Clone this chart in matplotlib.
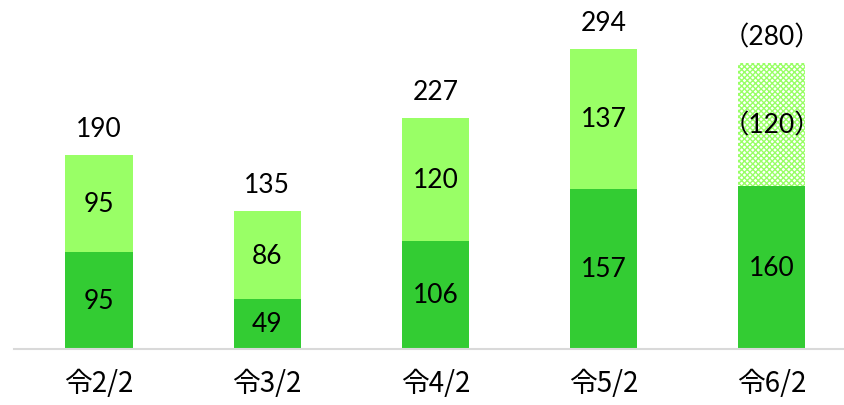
import matplotlib.pyplot as plt

plt.rcParams['font.family'] = ['Lato', 'Noto Sans CJK JP', 'DejaVu Sans']

categories = ["令2/2", "令3/2", "令4/2", "令5/2", "令6/2"]
lower = [95, 49, 106, 157, 160]
upper = [95, 86, 120, 137, 120]
lower_labels = ["95", "49", "106", "157", "160"]
upper_labels = ["95", "86", "120", "137", "（120）"]
total_labels = ["190", "135", "227", "294", "（280）"]
estimated = [False, False, False, False, True]

dark = '#33CC33'
light = '#99FF66'

fig = plt.figure(figsize=(8.44, 4.06), dpi=100)
ax = fig.add_axes([14 / 844, 56 / 406, 830 / 844, 350 / 406])

x = list(range(len(categories)))
w = 0.4
ax.bar(x, lower, width=w, color=dark, zorder=2)
for i in x:
    if estimated[i]:
        ax.bar(i, upper[i], bottom=lower[i], width=w, color='white',
               edgecolor=light, hatch='xxxxxx', linewidth=0, zorder=2)
    else:
        ax.bar(i, upper[i], bottom=lower[i], width=w, color=light, zorder=2)

for i in x:
    ax.text(i, lower[i] / 2, lower_labels[i], ha='center', va='center', fontsize=19, zorder=3)
    ax.text(i, lower[i] + upper[i] / 2, upper_labels[i], ha='center', va='center', fontsize=19, zorder=3)
    ax.annotate(total_labels[i], (i, lower[i] + upper[i]), xytext=(0, 10),
                textcoords='offset points', ha='center', va='bottom', fontsize=19)

ax.set_xlim(-0.506, 4.43)
ax.set_ylim(0, 343)
ax.set_xticks(x)
ax.set_xticklabels(categories, fontsize=20, family=['Noto Sans CJK JP', 'DejaVu Sans'])
ax.tick_params(axis='x', length=0, pad=14)
ax.set_yticks([])
for s in ['top', 'right', 'left']:
    ax.spines[s].set_visible(False)
ax.spines['bottom'].set_color('#D9D9D9')
ax.spines['bottom'].set_linewidth(1.5)

fig.savefig('out.png', dpi=100)
